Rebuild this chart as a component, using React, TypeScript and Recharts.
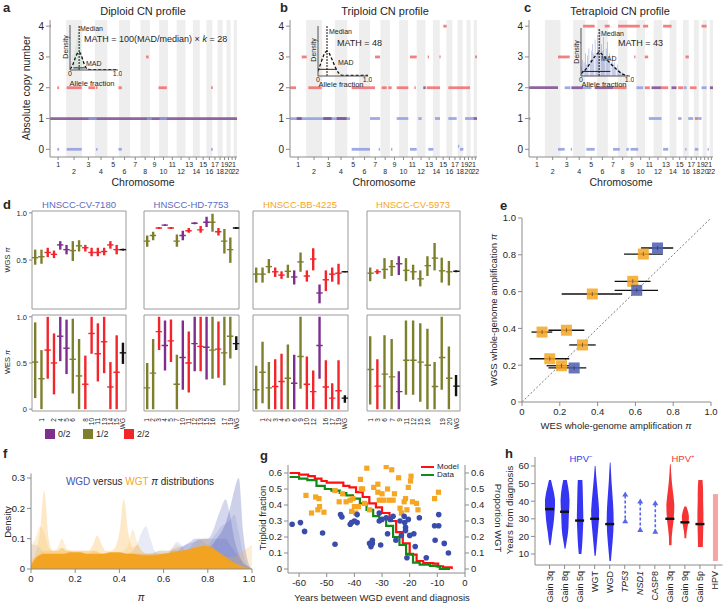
import React from "react";
import {
  ComposedChart,
  Bar,
  Line,
  Area,
  Scatter,
  XAxis,
  YAxis,
  ReferenceArea,
  ReferenceLine,
  ErrorBar,
  Cell,
} from "recharts";

const FONT = "'Liberation Sans', Arial, sans-serif";
const INK = "#262626";
const AXIS = "#8c8c8c";

// ---------- a-c: copy-number profiles ----------
const chrNames = ["1", "2", "3", "4", "5", "6", "7", "8", "9", "10", "11", "12", "13", "14", "15", "16", "17", "18", "19", "20", "21", "22"];
const chrLengths = [249, 243, 198, 191, 181, 171, 159, 146, 141, 136, 135, 134, 115, 107, 102, 90, 81, 78, 59, 63, 48, 51];

// [start Mb, end Mb, copy number, colour]
const diploidSegs: [number, number, number, string][] = [
  [0, 2878, 1, "p"],
  [591, 720, 1, "b"], [1490, 1568, 1, "b"], [1686, 1799, 1, "b"],
  [0, 14, 4, "r"],
  [112, 140, 2, "r"], [257, 488, 2, "r"], [591, 694, 2, "r"], [708, 730, 2, "r"], [1054, 1105, 2, "r"], [1670, 1799, 2, "r"], [2480, 2505, 2, "r"],
  [1478, 1518, 3, "r"],
  [112, 140, 0, "b"], [257, 488, 0, "b"], [708, 730, 0, "b"], [1054, 1105, 0, "b"], [2480, 2505, 0, "b"],
];
const triploidSegs: [number, number, number, string][] = [
  [2360, 2411, 4, "r"],
  [180, 257, 3, "r"], [1308, 1385, 3, "r"], [1847, 1950, 3, "r"], [2120, 2140, 3, "r"], [2300, 2318, 3, "r"], [2850, 2878, 3, "r"],
  [0, 92, 2, "r"], [282, 487, 2, "r"], [949, 1308, 2, "r"], [1411, 1488, 2, "r"], [1513, 1565, 2, "r"], [1642, 1821, 2, "r"], [1915, 1935, 2, "r"], [2103, 2309, 2, "r"], [2437, 2770, 2, "r"], [2052, 2088, 2, "p"],
  [0, 923, 1, "b"], [103, 180, 1, "p"], [513, 641, 1, "p"], [718, 872, 1, "p"], [1231, 1385, 1, "b"], [1642, 1821, 1, "b"], [1975, 2026, 1, "b"], [2232, 2309, 1, "b"], [2437, 2565, 1, "b"], [2693, 2822, 1, "b"], [2822, 2878, 1, "p"],
  [949, 1231, 0, "b"], [1365, 1385, 0, "b"], [1555, 1575, 0, "b"], [1847, 1950, 0, "b"], [2129, 2206, 0, "b"], [2616, 2668, 0, "b"], [2585, 2605, 0.1, "b"],
];
const tetraploidSegs: [number, number, number, string][] = [
  [846, 1028, 4, "r"], [1185, 1263, 4, "r"], [1394, 1733, 4, "r"], [1785, 1864, 4, "r"], [2098, 2229, 4, "r"], [2699, 2777, 4, "r"],
  [454, 637, 3, "r"], [1645, 1665, 3, "r"], [1811, 1864, 3, "r"], [2448, 2500, 3, "r"],
  [0, 454, 2, "p"], [558, 647, 2, "b"], [663, 846, 2, "p"], [846, 976, 2, "b"], [1028, 1315, 2, "p"], [1315, 1524, 2, "r"], [1681, 1785, 2, "b"], [1811, 1890, 2, "r"], [1916, 2072, 2, "p"], [2072, 2177, 2, "r"], [2229, 2307, 2, "p"], [2333, 2412, 2, "r"], [2422, 2464, 2, "b"], [2516, 2620, 2, "r"], [2699, 2777, 2, "b"], [2829, 2878, 2, "p"],
  [0, 22, 1, "b"], [1874, 2072, 1, "b"], [2333, 2386, 1, "b"], [2490, 2568, 1, "b"], [2594, 2647, 1, "r"], [2647, 2699, 1, "b"],
  [454, 558, 0, "b"], [653, 673, 0, "b"], [898, 1028, 0, "b"], [1315, 1420, 0, "b"], [1524, 1561, 0, "b"], [1587, 1707, 0, "b"], [2098, 2177, 0, "b"], [2443, 2463, 0, "b"], [2594, 2647, 0, "b"], [2793, 2813, 0, "b"],
];

// allele-fraction insets (bin heights, relative density)
const diploidHist = [0.1, 0.2, 0.35, 0.45, 0.55, 0.7, 0.85, 1.0, 0.75, 0.45, 0.3, 0.25, 0.15, 0.1, 0.06, 0.05, 0.04, 0.08, 0.03];
const triploidHist = [0.3, 0.55, 0.75, 0.8, 0.65, 0.7, 0.55, 0.45, 0.35, 0.3, 0.25, 0.2, 0.15, 0.1, 0.08, 0.05, 0.03, 0.02, 0.06];
const triploidZeroBin = [1.0, 0.6];
const tetraploidHist = [0.2, 0.35, 0.3, 0.5, 0.25, 0.45, 0.6, 0.35, 0.55, 0.7, 0.5, 0.8, 0.45, 0.9, 0.6, 1.0, 0.7, 0.55, 0.85, 0.4, 0.6, 0.75, 0.35, 0.5, 0.3, 0.45, 0.25, 0.3, 0.2, 0.25, 0.15, 0.12, 0.1, 0.08, 0.05, 0.04, 0.03, 0.02, 0.02];
const diploidCurveX = [0, 0.05, 0.1, 0.15, 0.19, 0.23, 0.27, 0.32, 0.36, 0.45, 0.6, 0.8, 1.0];
const diploidCurveY = [0.02, 0.1, 0.25, 0.38, 0.42, 0.36, 0.22, 0.08, 0.02, 0.01, 0.01, 0.01, 0.01];
const triploidCurveX = [0, 0.05, 0.1, 0.15, 0.18, 0.22, 0.28, 0.34, 0.4, 0.46, 0.6, 0.8, 1.0];
const triploidCurveY = [0.1, 0.25, 0.4, 0.5, 0.52, 0.48, 0.35, 0.2, 0.08, 0.02, 0.01, 0.01, 0.01];
const tetraploidCurveX = [0, 0.1, 0.2, 0.3, 0.37, 0.45, 0.55, 0.65, 0.75, 0.85, 0.95];
const tetraploidCurveY = [0.05, 0.15, 0.3, 0.45, 0.52, 0.45, 0.33, 0.22, 0.12, 0.04, 0.01];

// ---------- d: per-arm pi estimates, [value, low, high] ----------
const cv7180Labels = ["", "1", "", "2", "4", "5", "6", "", "8", "10", "11", "13", "14", "15", "WG"];
const cv7180States = ["o", "o", "r", "r", "p", "p", "o", "o", "r", "r", "r", "r", "r", "r", "k"];
const cv7180Wgs = [[0.525, 0.45, 0.61], [0.535, 0.46, 0.61], [0.58, 0.53, 0.63], [0.56, 0.52, 0.6], [0.66, 0.61, 0.7], [0.61, 0.56, 0.66], [0.6, 0.49, 0.7], [0.65, 0.59, 0.71], [0.63, 0.59, 0.66], [0.58, 0.54, 0.63], [0.58, 0.54, 0.63], [0.59, 0.55, 0.63], [0.66, 0.62, 0.7], [0.61, 0.56, 0.66], [0.61, 0.6, 0.62]];
const cv7180Wes = [[0.51, 0.12, 0.94], [0.33, 0, 0.64], [0.64, 0.33, 1.0], [0.5, 0.16, 0.82], [0.79, 0.52, 1.0], [0.66, 0.38, 0.97], [0.54, 0.17, 0.98], [0.36, 0, 0.76], [0.27, 0, 0.58], [0.82, 0.6, 1.0], [0.6, 0.3, 0.93], [0.73, 0.39, 1.0], [0.24, 0, 0.51], [0.4, 0, 0.8], [0.61, 0.49, 0.72]];

const hd7753Labels = ["1", "2", "3", "4", "5", "7", "10", "11", "12", "13", "15", "16", "", "17", "19", "WG"];
const hd7753States = ["o", "o", "r", "p", "r", "o", "p", "r", "p", "r", "p", "o", "r", "o", "o", "k"];
const hd7753Wgs = [[0.7, 0.64, 0.76], [0.76, 0.71, 0.8], [0.84, 0.83, 0.85], [0.87, 0.86, 0.88], [0.84, 0.83, 0.85], [0.7, 0.64, 0.77], [0.76, 0.71, 0.81], [0.81, 0.79, 0.84], [0.89, 0.88, 0.9], [0.82, 0.79, 0.86], [0.9, 0.85, 0.96], [0.9, 0.8, 0.99], [0.8, 0.76, 0.84], [0.7, 0.57, 0.83], [0.61, 0.47, 0.74], [0.84, 0.83, 0.85]];
const hd7753Wes = [[0.23, 0, 0.5], [0.39, 0, 0.76], [0.84, 0.64, 1.0], [0.69, 0.42, 0.96], [0.74, 0.51, 0.97], [0.27, 0, 0.59], [0.56, 0.21, 0.96], [0.5, 0.18, 0.84], [0.71, 0.41, 1.0], [0.68, 0.41, 1.0], [0.67, 0.32, 1.0], [0.64, 0.33, 1.0], [0.65, 0.34, 0.95], [0.61, 0.26, 1.0], [0.79, 0.55, 1.0], [0.71, 0.64, 0.79]];

const bb4225Labels = ["", "1", "2", "3", "4", "5", "6", "9", "10", "12", "", "16", "17", "19", "WG"];
const bb4225States = ["o", "o", "o", "r", "r", "o", "p", "o", "r", "r", "p", "r", "r", "r", "k"];
const bb4225Wgs = [[0.35, 0.26, 0.42], [0.35, 0.26, 0.42], [0.43, 0.36, 0.51], [0.375, 0.32, 0.42], [0.34, 0.3, 0.38], [0.38, 0.31, 0.45], [0.32, 0.24, 0.39], [0.48, 0.375, 0.58], [0.33, 0.27, 0.39], [0.51, 0.39, 0.625], [0.15, 0.04, 0.24], [0.29, 0.17, 0.39], [0.35, 0.27, 0.42], [0.36, 0.24, 0.46], [0.375, 0.37, 0.38]];
const bb4225Wes = [[0.21, 0, 0.47], [0.4, 0.065, 0.73], [0.23, 0, 0.51], [0.245, 0, 0.54], [0.3, 0, 0.6], [0.335, 0, 0.7], [0.28, 0, 0.59], [0.57, 0.22, 1.0], [0.27, 0, 0.57], [0.19, 0, 0.42], [0.69, 0.33, 1.0], [0.24, 0, 0.53], [0.12, 0, 0.28], [0.2, 0, 0.53], [0.12, 0.07, 0.15]];

const cv5973Labels = ["1", "3", "6", "7", "9", "11", "12", "15", "16", "", "19", "20", "WG"];
const cv5973States = ["o", "r", "o", "o", "p", "o", "o", "o", "o", "o", "o", "o", "k"];
const cv5973Wgs = [[0.36, 0.275, 0.42], [0.375, 0.35, 0.4], [0.4, 0.3, 0.52], [0.43, 0.33, 0.5], [0.46, 0.34, 0.54], [0.39, 0.275, 0.52], [0.375, 0.29, 0.45], [0.3, 0.22, 0.39], [0.44, 0.33, 0.54], [0.52, 0.39, 0.68], [0.385, 0.26, 0.525], [0.375, 0.23, 0.49], [0.38, 0.37, 0.39]];
const cv5973Wes = [[0.43, 0.05, 0.79], [0.25, 0, 0.54], [0.38, 0, 0.8], [0.35, 0, 0.76], [0.19, 0, 0.41], [0.53, 0.155, 0.96], [0.53, 0.155, 0.96], [0.51, 0.08, 0.93], [0.475, 0, 0.87], [0.245, 0, 0.51], [0.56, 0.21, 1.0], [0.335, 0, 0.68], [0.25, 0.14, 0.37]];

// ---------- e: WES vs WGS pi ----------
const wgdWes = [0.717, 0.607, 0.276];
const wgdWgs = [0.837, 0.607, 0.185];
const wgdWesLo = [0.63, 0.49, 0.14];
const wgdWesHi = [0.8, 0.72, 0.34];
const wgtWes = [0.642, 0.586, 0.372, 0.235, 0.106, 0.32, 0.147, 0.209];
const wgtWgs = [0.804, 0.656, 0.587, 0.39, 0.38, 0.31, 0.235, 0.197];
const wgtWesLo = [0.54, 0.49, 0.21, 0.14, 0.05, 0.25, 0.04, 0.13];
const wgtWesHi = [0.745, 0.68, 0.53, 0.33, 0.16, 0.39, 0.25, 0.25];

// ---------- f: pi density curves ----------
const piGrid = [
  0, 0.02, 0.04, 0.06, 0.08, 0.1, 0.12, 0.14, 0.16, 0.18,
  0.2, 0.22, 0.24, 0.26, 0.28, 0.3, 0.32, 0.34, 0.36, 0.38,
  0.4, 0.42, 0.44, 0.46, 0.48, 0.5, 0.52, 0.54, 0.56, 0.58,
  0.6, 0.62, 0.64, 0.66, 0.68, 0.7, 0.72, 0.74, 0.76, 0.78,
  0.8, 0.82, 0.84, 0.86, 0.88, 0.9, 0.92, 0.94, 0.96, 0.98,
  1.0,
];
const wgdBroad = [
  0.02, 0.03, 0.04, 0.04, 0.04, 0.04, 0.04, 0.04, 0.04, 0.04,
  0.04, 0.04, 0.04, 0.04, 0.04, 0.04, 0.04, 0.045, 0.05, 0.05,
  0.05, 0.05, 0.05, 0.05, 0.05, 0.05, 0.05, 0.05, 0.055, 0.06,
  0.06, 0.06, 0.065, 0.07, 0.075, 0.08, 0.085, 0.09, 0.095, 0.1,
  0.1, 0.1, 0.1, 0.1, 0.1, 0.08, 0.06, 0.04, 0.02, 0.01,
  0,
];
const wgdPeakMid = [
  0.08, 0.08, 0.07, 0.05, 0.04, 0.04, 0.04, 0.04, 0.04, 0.04,
  0.04, 0.04, 0.04, 0.04, 0.04, 0.045, 0.05, 0.05, 0.05, 0.05,
  0.05, 0.05, 0.05, 0.06, 0.08, 0.12, 0.14, 0.1, 0.06, 0.05,
  0.05, 0.05, 0.07, 0.09, 0.08, 0.06, 0.07, 0.09, 0.1, 0.09,
  0.08, 0.1, 0.12, 0.14, 0.15, 0.16, 0.18, 0.12, 0.05, 0.01,
  0,
];
const wgdPeak88 = [
  0.01, 0.02, 0.03, 0.03, 0.03, 0.03, 0.03, 0.03, 0.03, 0.03,
  0.03, 0.03, 0.03, 0.03, 0.03, 0.03, 0.03, 0.03, 0.03, 0.03,
  0.03, 0.03, 0.03, 0.03, 0.03, 0.035, 0.04, 0.04, 0.04, 0.04,
  0.05, 0.05, 0.06, 0.06, 0.07, 0.08, 0.09, 0.1, 0.1, 0.1,
  0.1, 0.12, 0.16, 0.2, 0.23, 0.18, 0.1, 0.05, 0.02, 0.01,
  0,
];
const wgdPeak94 = [
  0, 0.01, 0.02, 0.02, 0.02, 0.02, 0.02, 0.02, 0.02, 0.02,
  0.02, 0.02, 0.02, 0.02, 0.02, 0.02, 0.02, 0.02, 0.02, 0.02,
  0.02, 0.02, 0.02, 0.02, 0.02, 0.02, 0.03, 0.03, 0.03, 0.03,
  0.03, 0.03, 0.03, 0.04, 0.04, 0.04, 0.05, 0.05, 0.06, 0.07,
  0.07, 0.08, 0.1, 0.12, 0.15, 0.2, 0.26, 0.3, 0.12, 0.03,
  0,
];
const wgtBumps = [
  0.08, 0.1, 0.14, 0.12, 0.07, 0.06, 0.07, 0.1, 0.07, 0.06,
  0.05, 0.05, 0.05, 0.05, 0.06, 0.06, 0.05, 0.05, 0.05, 0.05,
  0.05, 0.06, 0.08, 0.13, 0.09, 0.06, 0.05, 0.05, 0.05, 0.06,
  0.06, 0.06, 0.07, 0.08, 0.07, 0.06, 0.07, 0.08, 0.09, 0.1,
  0.1, 0.08, 0.06, 0.05, 0.04, 0.04, 0.04, 0.05, 0.06, 0.07,
  0.08,
];
const wgtSpikeLow = [
  0.02, 0.05, 0.12, 0.26, 0.1, 0.06, 0.06, 0.07, 0.06, 0.06,
  0.06, 0.06, 0.06, 0.06, 0.06, 0.055, 0.05, 0.05, 0.05, 0.05,
  0.05, 0.05, 0.05, 0.05, 0.05, 0.05, 0.05, 0.05, 0.05, 0.05,
  0.05, 0.055, 0.06, 0.06, 0.06, 0.06, 0.06, 0.06, 0.065, 0.07,
  0.07, 0.06, 0.05, 0.04, 0.03, 0.02, 0.02, 0.015, 0.01, 0.005,
  0,
];
const wgtSpikeMid = [
  0.03, 0.04, 0.05, 0.06, 0.06, 0.06, 0.06, 0.07, 0.06, 0.06,
  0.06, 0.06, 0.06, 0.06, 0.08, 0.11, 0.08, 0.06, 0.06, 0.07,
  0.12, 0.23, 0.12, 0.07, 0.08, 0.06, 0.05, 0.05, 0.05, 0.05,
  0.05, 0.05, 0.05, 0.05, 0.06, 0.06, 0.06, 0.06, 0.07, 0.07,
  0.07, 0.06, 0.05, 0.04, 0.03, 0.02, 0.015, 0.01, 0.005, 0.002,
  0,
];
const wgtBulk = [
  0.01, 0.035, 0.045, 0.05, 0.05, 0.05, 0.05, 0.05, 0.052, 0.055,
  0.055, 0.055, 0.052, 0.05, 0.05, 0.05, 0.05, 0.052, 0.055, 0.055,
  0.055, 0.052, 0.05, 0.05, 0.048, 0.046, 0.045, 0.045, 0.046, 0.048,
  0.05, 0.052, 0.055, 0.058, 0.06, 0.063, 0.066, 0.07, 0.073, 0.076,
  0.075, 0.07, 0.06, 0.05, 0.04, 0.03, 0.02, 0.012, 0.006, 0.002,
  0,
];

// ---------- g: timing of WGD ----------
const modelYears = [-63.4, -60, -56.7, -54.3, -51.9, -50, -46, -44, -41.8, -39.4, -37, -34.6, -32.2, -30, -27.3, -24.9, -22.5, -20, -17.5, -15.1, -11.5, -9.7, -7.9, -4.8];
const modelFrac = [0.6, 0.59, 0.58, 0.565, 0.55, 0.54, 0.54, 0.52, 0.51, 0.48, 0.45, 0.41, 0.385, 0.35, 0.3, 0.23, 0.16, 0.09, 0.05, 0.037, 0.033, 0.017, 0.01, 0];
const dataYears = [-63.4, -60, -57, -53.7, -50.7, -48.3, -45.3, -42.9, -40.5, -38, -35.6, -33.2, -31, -28.5, -26, -23.7, -21.3, -18.8, -16.4, -12.7, -10.3, -9.1, -5.4];
const dataFrac = [0.575, 0.565, 0.555, 0.52, 0.5, 0.49, 0.475, 0.46, 0.44, 0.41, 0.37, 0.33, 0.315, 0.27, 0.2, 0.15, 0.095, 0.04, 0.027, 0.02, 0.017, 0, 0];
const wgtYears = [-57.5, -55.5, -54, -52.8, -53.2, -52.6, -51, -47, -45.5, -44.3, -43, -41.5, -41, -40.5, -40, -39.5, -38.5, -37.8, -37.5, -37, -36.3, -35.5, -34.5, -33, -31.5, -31.5, -31, -30, -29.5, -28.5, -28, -27.5, -26.5, -26, -25.5, -24, -23.5, -23, -22, -21.5, -21, -20.5, -19.7, -19.5, -19, -17.5, -17, -11, -9.6];
const wgtFrac = [0.46, 0.35, 0.45, 0.44, 0.37, 0.39, 0.355, 0.49, 0.42, 0.47, 0.42, 0.43, 0.36, 0.44, 0.39, 0.35, 0.39, 0.56, 0.5, 0.5, 0.41, 0.63, 0.37, 0.51, 0.53, 0.48, 0.43, 0.47, 0.43, 0.64, 0.5, 0.43, 0.62, 0.43, 0.47, 0.57, 0.38, 0.35, 0.42, 0.44, 0.37, 0.51, 0.55, 0.58, 0.42, 0.41, 0.37, 0.44, 0.48];
const wgdYears = [-62.5, -59.5, -58, -51.5, -47, -45, -44.5, -41.5, -41, -40, -39, -39, -34.5, -34, -33.5, -33.5, -31, -30.5, -31, -30, -28.5, -28, -27, -26, -25, -23.5, -23, -22, -21.8, -21.5, -21.5, -21, -20.5, -20, -18.5, -18, -16.5, -14, -11, -10.8, -9.5, -9.5, -7.5, -6];
const wgdFrac = [0.28, 0.29, 0.235, 0.225, 0.155, 0.34, 0.325, 0.28, 0.29, 0.3, 0.34, 0.29, 0.16, 0.14, 0.16, 0.18, 0.35, 0.15, 0.3, 0.31, 0.32, 0.22, 0.31, 0.33, 0.18, 0.3, 0.21, 0.33, 0.29, 0.26, 0.24, 0.07, 0.31, 0.21, 0.22, 0.14, 0.32, 0.07, 0.27, 0.18, 0.34, 0.27, 0.16, 0.1];

// ---------- h: years from diagnosis ----------
const hCategories = ["Gain 3q", "Gain 8q", "Gain 5q", "WGT", "WGD", "TP53", "NSD1", "CASP8", "Gain 3q", "Gain 9q", "Gain 5p", "HPV"];
const hKinds = ["violin", "violin", "violin", "violin", "violin", "arrow", "arrow", "arrow", "violin", "violin", "violin", "bar"];
const hGroups = ["neg", "neg", "neg", "neg", "neg", "neg", "neg", "neg", "pos", "pos", "pos", "hpv"];
const hMin = [15, 13, 10, 9, 6, 28, 23, 22, 15, 19, 14, 6];
const hMax = [52, 52, 52, 60, 62, 45, 41, 40, 61, 37, 52, 44];
const hMedian = [35.5, 34, 29, 30, 27, null, null, null, 30, 28, 27, null];
// relative violin width, sampled from top (max) to bottom (min)
const hProfiles = [
  [0.2, 0.5, 0.8, 1.0, 1.0, 0.9, 0.8, 0.65, 0.45, 0.3, 0.1],
  [0.4, 0.7, 0.9, 1.0, 0.95, 0.85, 0.8, 0.75, 0.6, 0.35, 0.1],
  [0.7, 0.8, 0.85, 0.9, 0.95, 1.0, 0.95, 0.85, 0.75, 0.6, 0.4],
  [0.1, 0.25, 0.45, 0.65, 0.85, 1.0, 0.95, 0.75, 0.55, 0.35, 0.15],
  [0.1, 0.25, 0.4, 0.6, 0.8, 0.95, 1.0, 0.9, 0.7, 0.45, 0.2],
  null, null, null,
  [0.1, 0.2, 0.35, 0.55, 0.8, 1.0, 0.95, 0.8, 0.55, 0.35, 0.3],
  [0.3, 0.6, 0.85, 1.0, 1.0, 0.85, 0.7, 0.55, 0.4, 0.3, 0.25],
  [0.7, 0.85, 0.9, 0.9, 0.95, 1.0, 1.0, 0.95, 0.9, 0.85, 0.8],
  null,
];
const hMaxWidth = [10, 9, 6.5, 8, 7, 0, 0, 0, 8, 7, 6, 5];

// ---------- styling ----------
const CN_COLORS: Record<string, string> = { r: "#f06a6a", b: "#8c9be0", p: "#7a4a8c" };
const STATE_COLORS: Record<string, string> = { p: "#7e2f8e", o: "#7d7f2c", r: "#f2252b", k: "#111111" };
const H_COLORS: Record<string, string> = { neg: "#3535f2", pos: "#f53535", hpv: "#f6a4a4" };
const BLUE = "#4b5db0";
const ORANGE = "#f5a623";

const chrStarts = chrLengths.map((_, i) => chrLengths.slice(0, i).reduce((a, b) => a + b, 0));
const chrMids = chrStarts.map((s, i) => s + chrLengths[i] / 2);
const genomeLen = chrLengths.reduce((a, b) => a + b, 0);

const fmtPi = (v: number) => (v === 0 ? "0" : v === 1 ? "1.0" : String(v));

function Txt({ x, y, size = 10, color = INK, rot = 0, align = "center", bold = false, italic = false, children }: any) {
  const tx = align === "center" ? "-50%" : align === "right" ? "-100%" : "0%";
  return (
    <div
      style={{
        position: "absolute",
        left: x,
        top: y,
        transform: `translate(${tx}, -50%) rotate(${rot}deg)`,
        fontSize: size,
        color,
        fontWeight: bold ? 700 : 400,
        fontStyle: italic ? "italic" : "normal",
        whiteSpace: "nowrap",
        lineHeight: 1,
      }}
    >
      {children}
    </div>
  );
}

function ChrTick(props: any) {
  const { x, y, index } = props;
  const dy = index % 2 === 0 ? 6 : 13;
  return (
    <text x={x} y={y + dy} textAnchor="middle" fontSize={7} fill={INK}>
      {chrNames[index]}
    </text>
  );
}

function CnProfile({ segs, left, width, padLeft, padRight }: any) {
  return (
    <div style={{ position: "absolute", left, top: 0 }}>
      <ComposedChart width={width} height={195} margin={{ top: 20, right: padRight, bottom: 8, left: padLeft }}>
        <XAxis
          type="number"
          dataKey="x"
          domain={[0, genomeLen]}
          ticks={chrMids}
          interval={0}
          tick={<ChrTick />}
          tickSize={3}
          tickMargin={1}
          height={30}
          stroke={AXIS}
          allowDataOverflow
        />
        <YAxis
          type="number"
          domain={[-0.25, 4.2]}
          ticks={[0, 1, 2, 3, 4]}
          width={40}
          tickSize={4}
          tick={{ fontSize: 10, fill: INK }}
          stroke={AXIS}
          allowDataOverflow
        />
        {chrStarts.map((s, i) =>
          i % 2 === 1 ? (
            <ReferenceArea key={"band" + i} x1={s} x2={s + chrLengths[i]} y1={-0.25} y2={4.2} fill="#eeeeee" fillOpacity={1} stroke="none" />
          ) : null
        )}
        {segs.map(([s, e, cn, c]: any, i: number) => (
          <ReferenceArea key={"seg" + i} x1={s} x2={e} y1={cn - 0.045} y2={cn + 0.045} fill={CN_COLORS[c]} fillOpacity={0.85} stroke="none" />
        ))}
      </ComposedChart>
    </div>
  );
}

function AfInset({ plotLeft, plotTop, plotW, plotH, hist, color, zeroBin, curveX, curveY, median, madLo, madHi, madY }: any) {
  const data = hist.map((h: number, i: number) => ({ x: 0.0125 + 0.025 * i, h, z: zeroBin && i < zeroBin.length ? zeroBin[i] : 0 }));
  const curve = curveX.map((x: number, i: number) => ({ x, y: curveY[i] }));
  return (
    <div style={{ position: "absolute", left: plotLeft - 10, top: plotTop - 3 }}>
      <ComposedChart width={plotW + 14} height={plotH + 13} data={data} margin={{ top: 3, right: 4, bottom: 0, left: 0 }} barGap={0}>
        <XAxis type="number" dataKey="x" domain={[0, 1]} ticks={[0, 1]} tickFormatter={(v: number) => (v === 0 ? "0" : "1.0")} height={10} tickSize={0} tickMargin={1} tick={{ fontSize: 7, fill: INK }} stroke="#555" allowDataOverflow />
        <YAxis type="number" domain={[0, 1.05]} width={10} tick={false} tickLine={false} stroke="#555" allowDataOverflow />
        {zeroBin ? <Bar dataKey="z" fill="#a8a8a8" barSize={1.6} isAnimationActive={false} /> : null}
        <Bar dataKey="h" fill={color} barSize={1.6} isAnimationActive={false} />
        <ReferenceLine x={median} stroke="#111" strokeDasharray="2 1" strokeWidth={1} />
        <ReferenceLine segment={[{ x: madLo, y: madY }, { x: madHi, y: madY }]} stroke="#111" strokeWidth={0.9} />
        <Line data={curve} dataKey="y" type="monotone" stroke="#111" strokeWidth={1.3} strokeDasharray="3 2" dot={false} activeDot={false} isAnimationActive={false} />
      </ComposedChart>
    </div>
  );
}

function PiTick(props: any) {
  const { x, y, index, labels } = props;
  return (
    <text x={x} y={y} transform={`rotate(-90 ${x} ${y})`} textAnchor="end" dominantBaseline="central" fontSize={6.5} fill={INK}>
      {labels[index]}
    </text>
  );
}

const renderDash = (p: any) => {
  const { cx, cy, payload, index } = p;
  if (cx == null || cy == null) return <g key={index} />;
  return <line key={index} x1={cx - 3.2} x2={cx + 3.2} y1={cy} y2={cy} stroke={STATE_COLORS[payload.state]} strokeWidth={1.4} />;
};

function PiCell({ left, top, plotW, rows, labels, states, showY, bottom }: any) {
  const data = rows.map((r: number[], i: number) => ({ i, v: r[0], range: [r[1], r[2]], state: states[i] }));
  const h = bottom ? 116 : 102;
  return (
    <div style={{ position: "absolute", left: left - 22, top }}>
      <ComposedChart width={plotW + 23} height={h} data={data} margin={{ top: 2, right: 1, bottom: bottom ? 0 : 2, left: 0 }}>
        <XAxis dataKey="i" type="category" hide={!bottom} height={18} tickLine={false} axisLine={false} interval={0} tickMargin={1} tick={<PiTick labels={labels} />} />
        <YAxis
          type="number"
          domain={[-0.02, 1.02]}
          ticks={[0, 0.5, 1]}
          width={22}
          axisLine={false}
          tickSize={3}
          tickLine={{ stroke: AXIS }}
          tick={showY ? { fontSize: 7.5, fill: INK } : false}
          tickFormatter={fmtPi}
          allowDataOverflow
        />
        <ReferenceArea y1={-0.02} y2={1.02} fill="none" stroke="#9a9a9a" />
        <Bar dataKey="range" barSize={2.4} isAnimationActive={false}>
          {data.map((d: any, i: number) => (
            <Cell key={i} fill={STATE_COLORS[d.state]} />
          ))}
        </Bar>
        <Line dataKey="v" stroke="none" dot={renderDash} activeDot={false} isAnimationActive={false} />
      </ComposedChart>
    </div>
  );
}

const squareShape = (color: string) => (p: any) => (
  <g>
    <rect x={p.cx - 5.5} y={p.cy - 5.5} width={11} height={11} fill={color} fillOpacity={0.85} />
    <line x1={p.cx} x2={p.cx} y1={p.cy - 2} y2={p.cy + 2} stroke="#333" strokeWidth={0.6} />
  </g>
);

function PanelE() {
  const wgd = wgdWes.map((x, i) => ({ x, y: wgdWgs[i], err: [x - wgdWesLo[i], wgdWesHi[i] - x] }));
  const wgt = wgtWes.map((x, i) => ({ x, y: wgtWgs[i], err: [x - wgtWesLo[i], wgtWesHi[i] - x] }));
  const ticks = [0, 0.2, 0.4, 0.6, 0.8, 1];
  return (
    <div style={{ position: "absolute", left: 482, top: 212 }}>
      <ComposedChart width={237} height={212} margin={{ top: 6, right: 8, bottom: 0, left: 0 }}>
        <XAxis type="number" dataKey="x" domain={[0, 1]} ticks={ticks} tickFormatter={fmtPi} height={22} tickSize={4} tick={{ fontSize: 9.5, fill: INK }} stroke={AXIS} allowDataOverflow />
        <YAxis type="number" dataKey="y" domain={[0, 1]} ticks={ticks} tickFormatter={fmtPi} width={40} tickSize={4} tick={{ fontSize: 9.5, fill: INK }} stroke={AXIS} allowDataOverflow />
        <ReferenceLine segment={[{ x: 0, y: 0 }, { x: 1, y: 1 }]} stroke="#555" strokeDasharray="2 2" strokeWidth={0.8} />
        <Scatter data={wgt} dataKey="y" shape={squareShape(ORANGE)} isAnimationActive={false}>
          <ErrorBar dataKey="err" direction="x" width={0} stroke="#111" strokeWidth={1.3} />
        </Scatter>
        <Scatter data={wgd} dataKey="y" shape={squareShape(BLUE)} isAnimationActive={false}>
          <ErrorBar dataKey="err" direction="x" width={0} stroke="#111" strokeWidth={1.3} />
        </Scatter>
      </ComposedChart>
    </div>
  );
}

function PanelF() {
  const data = piGrid.map((p, i) => ({
    p,
    wgdBroad: wgdBroad[i],
    wgdPeakMid: wgdPeakMid[i],
    wgdPeak88: wgdPeak88[i],
    wgdPeak94: wgdPeak94[i],
    wgtBumps: wgtBumps[i],
    wgtSpikeLow: wgtSpikeLow[i],
    wgtSpikeMid: wgtSpikeMid[i],
    wgtBulk: wgtBulk[i],
  }));
  const ticks = [0, 0.2, 0.4, 0.6, 0.8, 1];
  return (
    <div style={{ position: "absolute", left: 0, top: 470 }}>
      <ComposedChart width={255} height={115} data={data} margin={{ top: 3.5, right: 3, bottom: 0, left: 0 }}>
        <XAxis type="number" dataKey="p" domain={[0, 1]} ticks={ticks} tickFormatter={fmtPi} height={16} tickSize={4} tick={{ fontSize: 9.5, fill: INK }} stroke={AXIS} />
        <YAxis type="number" domain={[0, 0.315]} ticks={[0, 0.1, 0.2, 0.3]} tickFormatter={(v: number) => (v === 0 ? "0" : String(v))} width={31} tickSize={4} tick={{ fontSize: 9.5, fill: INK }} stroke={AXIS} allowDataOverflow />
        <Area dataKey="wgdBroad" type="monotone" stroke="none" fill="#3f51b5" fillOpacity={0.16} isAnimationActive={false} />
        <Area dataKey="wgdPeakMid" type="monotone" stroke="none" fill="#5c6bc0" fillOpacity={0.14} isAnimationActive={false} />
        <Area dataKey="wgdPeak88" type="monotone" stroke="none" fill="#3949ab" fillOpacity={0.22} isAnimationActive={false} />
        <Area dataKey="wgdPeak94" type="monotone" stroke="none" fill="#3949ab" fillOpacity={0.26} isAnimationActive={false} />
        <Area dataKey="wgtBumps" type="monotone" stroke="none" fill="#f7b547" fillOpacity={0.22} isAnimationActive={false} />
        <Area dataKey="wgtSpikeLow" type="monotone" stroke="none" fill="#f7b547" fillOpacity={0.3} isAnimationActive={false} />
        <Area dataKey="wgtSpikeMid" type="monotone" stroke="none" fill="#f7b547" fillOpacity={0.3} isAnimationActive={false} />
        <Area dataKey="wgtBulk" type="monotone" stroke="none" fill="#f3a21c" fillOpacity={0.95} isAnimationActive={false} />
      </ComposedChart>
    </div>
  );
}

function PanelG() {
  const model = modelYears.map((x, i) => ({ x, y: modelFrac[i] }));
  const obs = dataYears.map((x, i) => ({ x, y: dataFrac[i] }));
  const wgt = wgtYears.map((x, i) => ({ x, y: wgtFrac[i] }));
  const wgd = wgdYears.map((x, i) => ({ x, y: wgdFrac[i] }));
  const yTicks = [0, 0.1, 0.2, 0.3, 0.4, 0.5, 0.6];
  const yFmt = (v: number) => (v === 0 ? "0" : String(v));
  return (
    <div style={{ position: "absolute", left: 258, top: 460 }}>
      <ComposedChart width={237} height={131} margin={{ top: 5, right: 0, bottom: 0, left: 0 }}>
        <XAxis type="number" dataKey="x" domain={[-64, 0]} ticks={[-60, -50, -40, -30, -20, -10, 0]} height={18} tickSize={4} tick={{ fontSize: 9.5, fill: INK }} stroke={AXIS} allowDataOverflow />
        <YAxis yAxisId="l" type="number" domain={[-0.025, 0.65]} ticks={yTicks} tickFormatter={yFmt} width={30} tickSize={4} tick={{ fontSize: 9.5, fill: INK }} stroke={AXIS} allowDataOverflow />
        <YAxis yAxisId="r" orientation="right" type="number" domain={[-0.025, 0.65]} ticks={yTicks} tickFormatter={yFmt} width={30} tickSize={4} tick={{ fontSize: 9.5, fill: INK }} stroke={AXIS} allowDataOverflow />
        <Scatter yAxisId="l" data={wgt} dataKey="y" isAnimationActive={false} shape={(p: any) => <rect x={p.cx - 2.6} y={p.cy - 2.6} width={5.2} height={5.2} fill={ORANGE} />} />
        <Scatter yAxisId="l" data={wgd} dataKey="y" isAnimationActive={false} shape={(p: any) => <circle cx={p.cx} cy={p.cy} r={2.8} fill="#3a4cab" />} />
        <Line yAxisId="l" data={model} dataKey="y" type="stepAfter" stroke="#ff1010" strokeWidth={2.2} dot={false} activeDot={false} isAnimationActive={false} />
        <Line yAxisId="l" data={obs} dataKey="y" type="stepAfter" stroke="#138a13" strokeWidth={2.2} dot={false} activeDot={false} isAnimationActive={false} />
      </ComposedChart>
    </div>
  );
}

function HTick(props: any) {
  const { x, y, index } = props;
  return (
    <text x={x} y={y} transform={`rotate(-90 ${x} ${y})`} textAnchor="end" dominantBaseline="central" fontSize={9} fill={INK} fontStyle={hKinds[index] === "arrow" && index !== 7 ? "italic" : "normal"}>
      {hCategories[index]}
    </text>
  );
}

const renderViolin = (p: any) => {
  const { x, y, width, height, payload, index } = p;
  const cx = x + width / 2;
  const color = H_COLORS[payload.group];
  if (payload.kind === "bar") {
    return <rect key={index} x={cx - payload.maxW / 2} y={y} width={payload.maxW} height={height} fill={color} />;
  }
  if (payload.kind === "arrow") {
    const c = "#5666ee";
    return (
      <g key={index}>
        <line x1={cx} x2={cx} y1={y + 3} y2={y + height} stroke={c} strokeWidth={1.6} strokeDasharray="3 2" />
        <path d={`M${cx - 3},${y + 4} L${cx + 3},${y + 4} L${cx},${y - 1} Z`} fill={c} />
        <path d={`M${cx - 3},${y + height + 1} L${cx + 3},${y + height + 1} L${cx},${y + height - 4} Z`} fill={c} />
      </g>
    );
  }
  const prof: number[] = payload.profile;
  const half = payload.maxW / 2;
  const n = prof.length;
  const right = prof.map((w, k) => `${cx + w * half},${y + (k / (n - 1)) * height}`);
  const left = prof.map((w, k) => `${cx - w * half},${y + (k / (n - 1)) * height}`).reverse();
  const pts = [`${cx},${y}`, ...right, `${cx},${y + height}`, ...left].join(" ");
  return <polygon key={index} points={pts} fill={color} />;
};

const renderMedian = (p: any) => {
  const { cx, cy, payload, index } = p;
  if (cx == null || cy == null || payload.median == null) return <g key={index} />;
  return <rect key={index} x={cx - 4.5} y={cy - 1.2} width={9} height={2.4} fill="#111" />;
};

function PanelH() {
  const data = hCategories.map((name, i) => ({
    i,
    name,
    range: [hMin[i], hMax[i]],
    median: hMedian[i],
    kind: hKinds[i],
    group: hGroups[i],
    profile: hProfiles[i],
    maxW: hMaxWidth[i],
  }));
  return (
    <div style={{ position: "absolute", left: 500, top: 452 }}>
      <ComposedChart width={224} height={153} data={data} margin={{ top: 5, right: 1.5, bottom: 0, left: 0 }}>
        <XAxis dataKey="i" type="category" padding={{ left: 7, right: 0 }} interval={0} height={40} tickSize={4} tickMargin={2} tick={<HTick />} stroke={AXIS} />
        <YAxis type="number" domain={[3.75, 65.1]} ticks={[10, 20, 30, 40, 50, 60]} width={35} tickSize={4} tick={{ fontSize: 9.5, fill: INK }} stroke={AXIS} allowDataOverflow />
        <Bar dataKey="range" barSize={12} shape={renderViolin} isAnimationActive={false} />
        <Line dataKey="median" stroke="none" dot={renderMedian} activeDot={false} isAnimationActive={false} />
      </ComposedChart>
    </div>
  );
}

function LegendSquare({ x, color, label }: any) {
  return (
    <>
      <div style={{ position: "absolute", left: x, top: 429, width: 10, height: 10, background: color }} />
      <Txt x={x + 13} y={434} size={9} align="left">{label}</Txt>
    </>
  );
}

export default function App() {
  const dCols = [
    { left: 32, w: 94, labels: cv7180Labels, states: cv7180States, wgs: cv7180Wgs, wes: cv7180Wes },
    { left: 144, w: 95, labels: hd7753Labels, states: hd7753States, wgs: hd7753Wgs, wes: hd7753Wes },
    { left: 253, w: 95, labels: bb4225Labels, states: bb4225States, wgs: bb4225Wgs, wes: bb4225Wes },
    { left: 367, w: 93, labels: cv5973Labels, states: cv5973States, wgs: cv5973Wgs, wes: cv5973Wes },
  ];
  return (
    <div style={{ position: "absolute", left: 0, top: 0, width: 724, height: 605, background: "#fff", fontFamily: FONT, color: INK, overflow: "hidden" }}>
      {/* a-c */}
      <CnProfile segs={diploidSegs} left={0} width={245} padLeft={10} padRight={8} />
      <CnProfile segs={triploidSegs} left={240} width={245} padLeft={10} padRight={8} />
      <CnProfile segs={tetraploidSegs} left={480} width={240} padLeft={9} padRight={7} />
      <AfInset plotLeft={70} plotTop={25} plotW={48} plotH={45} hist={diploidHist} color="#2e9552" curveX={diploidCurveX} curveY={diploidCurveY} median={0.19} madLo={0.07} madHi={0.31} madY={0.05} />
      <AfInset plotLeft={318} plotTop={26} plotW={50} plotH={50} hist={triploidHist} zeroBin={triploidZeroBin} color="#f5b035" curveX={triploidCurveX} curveY={triploidCurveY} median={0.18} madLo={0.0} madHi={0.37} madY={0.14} />
      <AfInset plotLeft={581} plotTop={28} plotW={49} plotH={48} hist={tetraploidHist} color="#5566bb" curveX={tetraploidCurveX} curveY={tetraploidCurveY} median={0.37} madLo={0.02} madHi={0.6} madY={0.1} />

      <Txt x={3} y={7} size={13} bold align="left">a</Txt>
      <Txt x={280} y={7} size={13} bold align="left">b</Txt>
      <Txt x={524} y={7} size={13} bold align="left">c</Txt>
      <Txt x={143} y={11} size={11}>Diploid CN profile</Txt>
      <Txt x={385} y={11} size={11}>Triploid CN profile</Txt>
      <Txt x={620} y={11} size={11}>Tetraploid CN profile</Txt>
      <Txt x={26} y={88} size={10.5} rot={-90}>Absolute copy number</Txt>
      <Txt x={143} y={182} size={10.5}>Chromosome</Txt>
      <Txt x={384} y={182} size={10.5}>Chromosome</Txt>
      <Txt x={621} y={182} size={10.5}>Chromosome</Txt>

      <Txt x={80} y={28} size={7} align="left">Median</Txt>
      <Txt x={84} y={39} size={9} align="left">
        MATH = 100(MAD/median) × <i>k</i> = 28
      </Txt>
      <Txt x={65} y={47} size={7} rot={-90}>Density</Txt>
      <Txt x={86} y={63} size={7} align="left">MAD</Txt>
      <Txt x={92} y={84} size={7.5}>Allele fraction</Txt>

      <Txt x={329} y={31} size={7} align="left">Median</Txt>
      <Txt x={337} y={43} size={9} align="left">MATH = 48</Txt>
      <Txt x={313} y={50} size={7} rot={-90}>Density</Txt>
      <Txt x={338} y={62} size={7} align="left">MAD</Txt>
      <Txt x={341} y={85} size={7.5}>Allele fraction</Txt>

      <Txt x={601} y={33} size={7} align="left">Median</Txt>
      <Txt x={618} y={43} size={9} align="left">MATH = 43</Txt>
      <Txt x={576} y={52} size={7} rot={-90}>Density</Txt>
      <Txt x={601} y={58} size={7} align="left">MAD</Txt>
      <Txt x={604} y={85} size={7.5}>Allele fraction</Txt>

      {/* d */}
      <Txt x={3} y={204} size={13} bold align="left">d</Txt>
      <Txt x={79} y={205} size={9.5} color="#5b6cc0">HNSCC-CV-7180</Txt>
      <Txt x={191} y={205} size={9.5} color="#5b6cc0">HNSCC-HD-7753</Txt>
      <Txt x={300} y={205} size={9.5} color={ORANGE}>HNSCC-BB-4225</Txt>
      <Txt x={413} y={205} size={9.5} color={ORANGE}>HNSCC-CV-5973</Txt>
      <Txt x={8} y={260} size={7.5} rot={-90}>
        WGS <i>π</i>
      </Txt>
      <Txt x={8} y={362} size={7.5} rot={-90}>
        WES <i>π</i>
      </Txt>
      {dCols.map((c, k) => (
        <React.Fragment key={k}>
          <PiCell left={c.left} top={209} plotW={c.w} rows={c.wgs} labels={c.labels} states={c.states} showY={k === 0} bottom={false} />
          <PiCell left={c.left} top={313} plotW={c.w} rows={c.wes} labels={c.labels} states={c.states} showY={k === 0} bottom={true} />
        </React.Fragment>
      ))}
      <LegendSquare x={45} color={STATE_COLORS.p} label="0/2" />
      <LegendSquare x={83} color={STATE_COLORS.o} label="1/2" />
      <LegendSquare x={124} color={STATE_COLORS.r} label="2/2" />

      {/* e */}
      <PanelE />
      <Txt x={500} y={205} size={13} bold align="left">e</Txt>
      <Txt x={494} y={310} size={9.5} rot={-90}>
        WGS whole-genome amplification <i>π</i>
      </Txt>
      <Txt x={616} y={426} size={9.5}>
        WES whole-genome amplification <i>π</i>
      </Txt>

      {/* f */}
      <PanelF />
      <Txt x={3} y={453} size={13} bold align="left">f</Txt>
      <Txt x={140} y={482} size={10}>
        <span style={{ color: "#4354b0" }}>WGD</span> versus <span style={{ color: ORANGE }}>WGT</span> <i>π</i> distributions
      </Txt>
      <Txt x={8} y={522} size={9.5} rot={-90}>Density</Txt>
      <Txt x={141} y={598} size={10} italic>π</Txt>

      {/* g */}
      <PanelG />
      <Txt x={260} y={455} size={13} bold align="left">g</Txt>
      <Txt x={263} y={518} size={9.5} rot={-90}>Triploid fraction</Txt>
      <Txt x={498} y={518} size={9.5} rot={90}>Proportion WGT</Txt>
      <Txt x={382} y={598} size={9.5}>Years between WGD event and diagnosis</Txt>
      <div style={{ position: "absolute", left: 421, top: 466, width: 13, height: 2.2, background: "#ff1010" }} />
      <div style={{ position: "absolute", left: 421, top: 474, width: 13, height: 2.2, background: "#138a13" }} />
      <Txt x={437} y={467} size={8} align="left">Model</Txt>
      <Txt x={437} y={475} size={8} align="left">Data</Txt>

      {/* h */}
      <PanelH />
      <Txt x={505} y={453} size={13} bold align="left">h</Txt>
      <Txt x={510} y={510} size={9.5} rot={-90}>Years from diagnosis</Txt>
      <Txt x={581} y={458} size={9.5} color="#3535f2">
        HPV<sup style={{ fontSize: 6 }}>−</sup>
      </Txt>
      <Txt x={683} y={458} size={9.5} color="#f53535">
        HPV<sup style={{ fontSize: 6 }}>+</sup>
      </Txt>
    </div>
  );
}
